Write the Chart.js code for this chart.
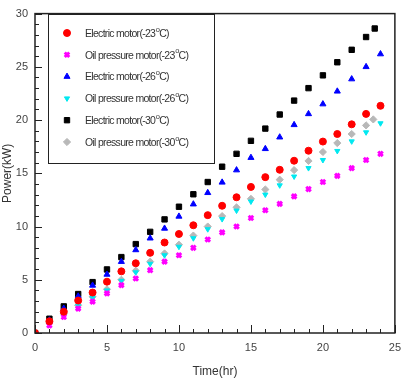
<!DOCTYPE html>
<html>
<head>
<meta charset="utf-8">
<script src="https://cdn.jsdelivr.net/npm/chart.js@4.4.1/dist/chart.umd.min.js"></script>
<style>
  html, body { margin: 0; padding: 0; background: #fff; }
  #wrap { width: 409px; height: 381px; position: relative; }
</style>
</head>
<body>
<div id="wrap"><canvas id="chartPower"></canvas></div>
<script>
// === Datos ===
const hours = [0, 1, 2, 3, 4, 5, 6, 7, 8, 9, 10, 11, 12, 13, 14, 15, 16, 17, 18, 19, 20, 21, 22, 23, 24];
const hoursE30 = [0, 1, 2, 3, 4, 5, 6, 7, 8, 9, 10, 11, 12, 13, 14, 15, 16, 17, 18, 19, 20, 21, 22, 23, 23.6];
const hoursO30 = [0, 1, 2, 3, 4, 5, 6, 7, 8, 9, 10, 11, 12, 13, 14, 15, 16, 17, 18, 19, 20, 21, 22, 23, 23.5];

const electric23 = [0, 1.1, 2.0, 3.05, 3.8, 4.82, 5.79, 6.55, 7.53, 8.5, 9.3, 10.12, 11.07, 11.95, 12.75, 13.72, 14.64, 15.33, 16.18, 17.12, 17.98, 18.69, 19.6, 20.58, 21.34];
const oil23 = [0, 0.7, 1.5, 2.29, 2.95, 3.72, 4.5, 5.12, 5.9, 6.7, 7.3, 8.0, 8.78, 9.45, 10.0, 10.8, 11.53, 12.13, 12.83, 13.52, 14.18, 14.76, 15.49, 16.25, 16.83];
const electric26 = [0, 1.2, 2.3, 3.45, 4.47, 5.5, 6.7, 7.8, 8.9, 9.82, 10.95, 12.1, 13.17, 14.15, 15.3, 16.47, 17.3, 18.39, 19.55, 20.58, 21.5, 22.7, 23.85, 25.0, 26.2];
const oil26 = [0, 0.9, 1.75, 2.55, 3.3, 4.0, 4.9, 5.7, 6.5, 7.3, 8.1, 8.9, 9.75, 10.7, 11.5, 12.35, 13.0, 13.87, 14.7, 15.49, 16.25, 17.1, 18.0, 18.85, 19.7];
const electric30 = [0, 1.34, 2.5, 3.66, 4.78, 5.97, 7.13, 8.35, 9.5, 10.67, 11.86, 13.03, 14.18, 15.62, 16.83, 18.05, 19.2, 20.52, 21.83, 23.0, 24.2, 25.43, 26.6, 27.8, 28.6];
const oil30 = [0, 0.95, 1.8, 2.6, 3.4, 4.1, 5.0, 5.85, 6.7, 7.47, 8.29, 9.15, 10.0, 10.98, 11.8, 12.6, 13.48, 14.4, 15.3, 16.16, 17.0, 17.84, 18.69, 19.5, 20.06];

const seriesLabels = [
    "Electric motor(-23", "Oil pressure motor(-23",
    "Electric motor(-26", "Oil pressure motor(-26",
    "Electric motor(-30", "Oil pressure motor(-30"
];
const xTicks = [0, 5, 10, 15, 20, 25];
const yTicks = [0, 5, 10, 15, 20, 25, 30];

function puntos(xs, ys) {
    return ys.map((v, i) => ({ x: xs[i], y: v }));
}

const fuente = "'Liberation Sans', Arial, sans-serif";

// === Marcas interiores y marco ===
const marcoPlugin = {
    id: "marco",
    afterDraw(chart) {
        const ctx = chart.ctx;
        const a = chart.chartArea;
        const sx = chart.scales.x, sy = chart.scales.y;
        ctx.save();
        ctx.strokeStyle = "#222";
        ctx.lineWidth = 1;
        ctx.beginPath();
        for (let v = 0; v <= 25; v++) {
            const px = Math.round(sx.getPixelForValue(v)) + 0.5;
            const len = v % 5 === 0 ? 8 : 4;
            ctx.moveTo(px, a.bottom);
            ctx.lineTo(px, a.bottom - len);
        }
        for (let v = 0; v <= 30; v++) {
            const py = Math.round(sy.getPixelForValue(v)) + 0.5;
            const len = v % 5 === 0 ? 7 : 4;
            ctx.moveTo(a.left, py);
            ctx.lineTo(a.left + len, py);
        }
        ctx.stroke();
        ctx.lineWidth = 1.5;
        ctx.strokeStyle = "#222";
        ctx.strokeRect(a.left, a.top, a.right - a.left, a.bottom - a.top);
        ctx.restore();
    }
};

// === Leyenda con recuadro ===
const leyendaPlugin = {
    id: "leyenda",
    afterDraw(chart) {
        const ctx = chart.ctx;
        const box = { x: 48, y: 14, w: 166, h: 149 };
        ctx.save();
        ctx.fillStyle = "#fff";
        ctx.fillRect(box.x, box.y, box.w, box.h);
        ctx.strokeStyle = "#222";
        ctx.lineWidth = 1;
        ctx.strokeRect(box.x + 0.5, box.y + 0.5, box.w, box.h);
        chart.data.datasets.forEach((ds, i) => {
            const y = 33 + i * 21.8;
            ctx.fillStyle = ds.pointBackgroundColor;
            ctx.strokeStyle = ds.pointBorderColor;
            ctx.lineWidth = ds.pointBorderWidth;
            Chart.helpers.drawPoint(ctx, {
                pointStyle: ds.pointStyle,
                rotation: ds.pointRotation || 0,
                radius: ds.pointRadius,
                borderWidth: ds.pointBorderWidth
            }, 67, y);
            ctx.fillStyle = "#333";
            ctx.font = "10.5px " + fuente;
            ctx.letterSpacing = "-0.7px";
            ctx.textBaseline = "middle";
            ctx.textAlign = "left";
            ctx.fillText(ds.label, 85, y + 1);
            const w = ctx.measureText(ds.label).width;
            ctx.font = "7.5px " + fuente;
            ctx.fillText("o", 85 + w + 0.5, y - 3.5);
            const w2 = ctx.measureText("o").width;
            ctx.font = "10.5px " + fuente;
            ctx.fillText("C)", 85 + w + w2 + 0.5, y + 1);
        });
        ctx.restore();
    }
};

function serie(label, xs, ys, color, style, radius, extra) {
    return Object.assign({
        label: label,
        data: puntos(xs, ys),
        backgroundColor: color,
        borderColor: color,
        pointStyle: style,
        pointRadius: radius,
        pointBorderWidth: 1,
        pointBorderColor: color,
        pointBackgroundColor: color,
        pointRotation: 0,
        showLine: false
    }, extra || {});
}

const ctx = document.getElementById("chartPower").getContext("2d");
const chart = new Chart(ctx, {
    type: "scatter",
    data: {
        datasets: [
            serie(seriesLabels[0], hours, electric23, "#ff0000", "circle", 3.5),
            serie(seriesLabels[1], hours, oil23, "#ff00ff", "crossRot", 3.2, { pointBorderWidth: 3 }),
            serie(seriesLabels[2], hours, electric26, "#0000ff", "triangle", 3.5),
            serie(seriesLabels[3], hours, oil26, "#00e8f0", "triangle", 3, { pointRotation: 180 }),
            serie(seriesLabels[4], hoursE30, electric30, "#000000", "rect", 3.8),
            serie(seriesLabels[5], hoursO30, oil30, "#b8b8b8", "rectRot", 3.6)
        ]
    },
    options: {
        responsive: true,
        maintainAspectRatio: false,
        animation: false,
        layout: { padding: { top: 4, right: 7, left: 0, bottom: 0 } },
        plugins: {
            legend: { display: false },
            tooltip: { enabled: false }
        },
        scales: {
            x: {
                type: "linear",
                min: 0,
                max: 25,
                afterBuildTicks: (s) => { s.ticks = xTicks.map(v => ({ value: v })); },
                afterFit: (s) => { s.height = 48; },
                grid: { display: false, drawTicks: false },
                border: { display: false },
                ticks: { color: "#444", padding: 8, font: { size: 11, family: fuente } },
                title: {
                    display: true,
                    text: "Time(hr)",
                    color: "#333",
                    font: { size: 12, family: fuente },
                    padding: { top: 0, bottom: 2 }
                }
            },
            y: {
                type: "linear",
                min: 0,
                max: 30,
                afterBuildTicks: (s) => { s.ticks = yTicks.map(v => ({ value: v })); },
                afterFit: (s) => { s.width = 35; },
                grid: { display: false, drawTicks: false },
                border: { display: false },
                ticks: { color: "#444", padding: 7, font: { size: 11, family: fuente } },
                title: {
                    display: true,
                    text: "Power(kW)",
                    color: "#333",
                    font: { size: 12, family: fuente },
                    padding: { top: 0, bottom: 0 }
                }
            }
        }
    },
    plugins: [marcoPlugin, leyendaPlugin]
});
</script>
</body>
</html>
